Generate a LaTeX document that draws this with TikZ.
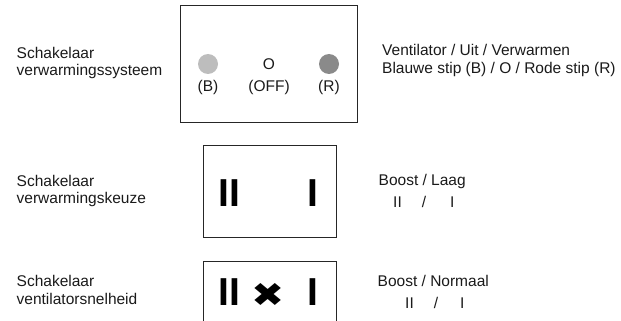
\documentclass[tikz,border=0pt]{standalone}
\usepackage{fontspec}
\setmainfont{Liberation Sans}
\newfontfamily\symfont{DejaVu Sans}
\usetikzlibrary{positioning}
\definecolor{txt}{HTML}{1A1A1A}
\definecolor{lightdot}{HTML}{BDBDBD}
\definecolor{darkdot}{HTML}{8A8A8A}
\begin{document}
\begin{tikzpicture}[x=1pt,y=-1pt,
  lbl/.style={anchor=base west, inner sep=0, font=\fontsize{15.5}{17}\selectfont, text=txt},
  ctr/.style={anchor=base, inner sep=0, font=\fontsize{15.5}{17}\selectfont, text=txt},
  panel/.style={draw=black!85, line width=1pt, rectangle, inner sep=0},
  barmark/.style={anchor=base, inner sep=0, font=\fontsize{39}{39}\selectfont\bfseries},
  dot/.style={circle, inner sep=0, minimum size=20pt}]
\useasboundingbox (0,0) rectangle (621,321);
\clip (0,0) rectangle (621,321);

% panels
\node[panel, minimum width=177pt, minimum height=116pt] (box1) at (269,64) {};
\node[panel, minimum width=133pt, minimum height=92pt] (box2) at (269.5,191.5) {};
\node[panel, minimum width=133pt, minimum height=92pt] (box3) at (269.5,307) {};

% row 1 left
\node[lbl] (l1a) at (16.5,58.5) {Schakelaar};
\node[lbl] (l1b) at (16.5,75.5) {verwarmingssysteem};
% row 1 panel content
\node[dot, fill=lightdot] (dB) at (208,64) {};
\node[ctr] (dO) at (269,70) {O};
\node[dot, fill=darkdot] (dR) at (329,64) {};
\node[ctr] (tB) at (208,91.5) {(B)};
\node[ctr] (tO) at (269,91.5) {(OFF)};
\node[ctr] (tR) at (329,91.5) {(R)};
% row 1 right
\node[lbl] (r1a) at (382,56) {Ventilator / Uit / Verwarmen};
\node[lbl] (r1b) at (382,73.5) {Blauwe stip (B) / O / Rode stip (R)};

% row 2
\node[lbl] (l2a) at (16.5,186) {Schakelaar};
\node[lbl] (l2b) at (16.5,203.5) {verwarmingskeuze};
\node[barmark] (b2a) at (229.5,206) {II};
\node[barmark] (b2b) at (313,206) {I};
\node[lbl] (r2a) at (378.5,185) {Boost / Laag};
\node[lbl] (r2b) at (393,207) {II\hspace{20pt}/\hspace{24pt}I};

% row 3
\node[lbl] (l3a) at (16.5,286.5) {Schakelaar};
\node[lbl] (l3b) at (16.5,304) {ventilatorsnelheid};
\node[barmark] (b3a) at (229.5,305) {II};
\node[inner sep=0, text=black] (b3x) at (268,294.5) {\scalebox{1.2}[1]{\symfont\fontsize{33}{33}\selectfont ✖}};
\node[barmark] (b3b) at (313,305) {I};
\node[lbl] (r3a) at (377.5,286) {Boost / Normaal};
\node[lbl] (r3b) at (405,308) {II\hspace{20pt}/\hspace{22pt}I};
\end{tikzpicture}
\end{document}
